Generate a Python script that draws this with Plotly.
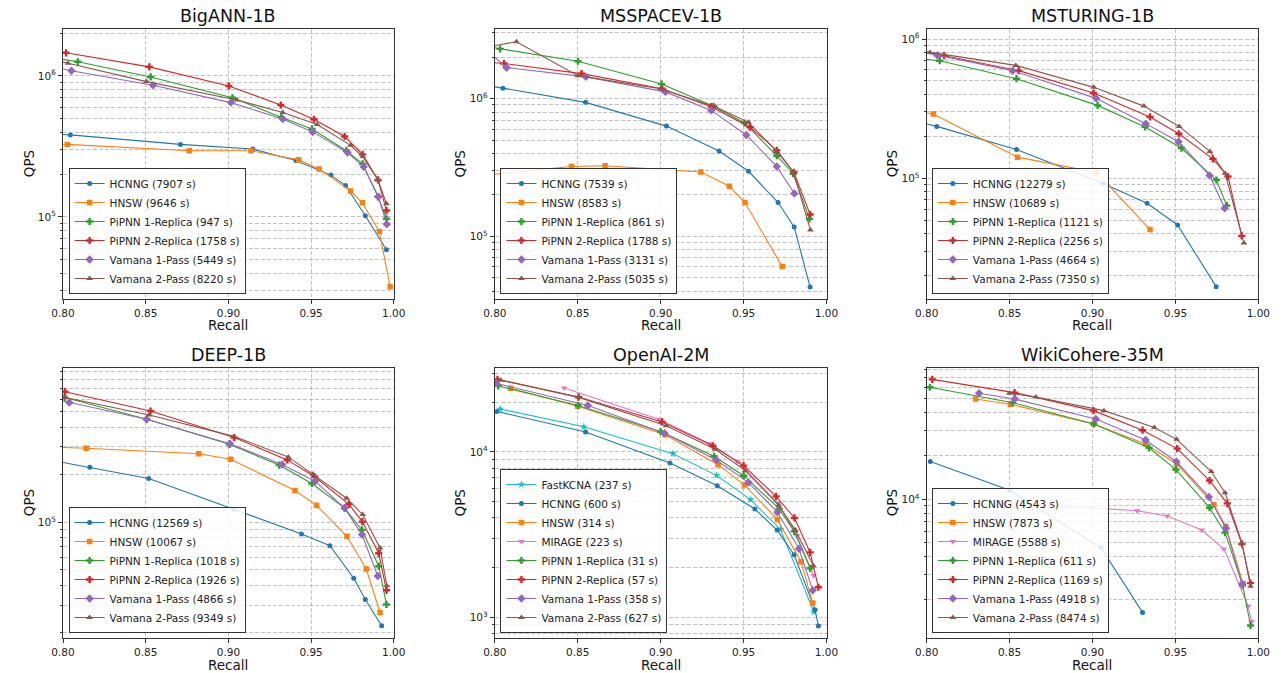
import plotly.graph_objects as go

FONT = "DejaVu Sans"
W, H = 1288, 673

# ---------------- data (recall, QPS) ----------------
PANEL_TITLES = ["BigANN-1B", "MSSPACEV-1B", "MSTURING-1B", "DEEP-1B", "OpenAI-2M", "WikiCohere-35M"]

# BigANN-1B
BIGANN_BUILD = {"HCNNG": 7907, "HNSW": 9646, "PiPNN 1-Replica": 947, "PiPNN 2-Replica": 1758,
                "Vamana 1-Pass": 5449, "Vamana 2-Pass": 8220}
BIGANN_RECALL = {
    "HCNNG": [0.79, 0.8044, 0.871, 0.9147, 0.9408, 0.962, 0.9709, 0.9828, 0.9956],
    "HNSW": [0.79, 0.8026, 0.8764, 0.9137, 0.9426, 0.9549, 0.9739, 0.981, 0.9913, 0.9978],
    "PiPNN 1-Replica": [0.79, 0.809, 0.853, 0.9025, 0.932, 0.9506, 0.9713, 0.9812, 0.9905, 0.9956],
    "PiPNN 2-Replica": [0.79, 0.8018, 0.8522, 0.9003, 0.9317, 0.9517, 0.9703, 0.9812, 0.9905, 0.9956],
    "Vamana 1-Pass": [0.79, 0.8051, 0.8544, 0.9015, 0.9329, 0.9509, 0.9721, 0.9818, 0.9907, 0.9958],
    "Vamana 2-Pass": [0.79, 0.803, 0.8505, 0.9052, 0.9329, 0.9537, 0.9739, 0.9812, 0.9905, 0.9956],
}
BIGANN_QPS = {
    "HCNNG": [3.9e5, 3.82e5, 3.27e5, 3.03e5, 2.51e5, 1.98e5, 1.67e5, 1.02e5, 5.86e4],
    "HNSW": [3.3e5, 3.27e5, 2.95e5, 2.95e5, 2.54e5, 2.19e5, 1.53e5, 1.26e5, 7.87e4, 3.2e4],
    "PiPNN 1-Replica": [1.37e6, 1.26e6, 9.84e5, 7.0e5, 5.09e5, 4.21e5, 2.95e5, 2.38e5, 1.39e5, 9.7e4],
    "PiPNN 2-Replica": [1.55e6, 1.46e6, 1.16e6, 8.49e5, 6.22e5, 4.93e5, 3.72e5, 2.78e5, 1.83e5, 1.11e5],
    "Vamana 1-Pass": [1.18e6, 1.09e6, 8.59e5, 6.47e5, 4.95e5, 4.01e5, 2.86e5, 2.27e5, 1.39e5, 8.87e4],
    "Vamana 2-Pass": [1.33e6, 1.23e6, 9.12e5, 6.76e5, 5.5e5, 4.52e5, 3.22e5, 2.68e5, 1.83e5, 1.24e5],
}

# MSSPACEV-1B
MSSPACEV_BUILD = {"HCNNG": 7539, "HNSW": 8583, "PiPNN 1-Replica": 861, "PiPNN 2-Replica": 1788,
                  "Vamana 1-Pass": 3131, "Vamana 2-Pass": 5035}
MSSPACEV_RECALL = {
    "HCNNG": [0.79, 0.8049, 0.8547, 0.9035, 0.9352, 0.953, 0.9708, 0.9805, 0.9901],
    "HNSW": [0.79, 0.8462, 0.8665, 0.9242, 0.9414, 0.9508, 0.9733],
    "PiPNN 1-Replica": [0.79, 0.8032, 0.8501, 0.9005, 0.9319, 0.9506, 0.97, 0.9799, 0.9897],
    "PiPNN 2-Replica": [0.79, 0.8055, 0.8523, 0.9009, 0.9305, 0.9538, 0.97, 0.9803, 0.9901],
    "Vamana 1-Pass": [0.79, 0.8071, 0.8549, 0.9029, 0.9305, 0.9516, 0.97, 0.9806],
    "Vamana 2-Pass": [0.79, 0.813, 0.8501, 0.8999, 0.9329, 0.953, 0.97, 0.9801, 0.9903],
}
MSSPACEV_QPS = {
    "HCNNG": [1.28e6, 1.19e6, 9.4e5, 6.32e5, 4.17e5, 2.97e5, 1.76e5, 1.17e5, 4.28e4],
    "HNSW": [2.75e5, 3.22e5, 3.26e5, 2.93e5, 2.31e5, 1.76e5, 6.03e4],
    "PiPNN 1-Replica": [2.47e6, 2.3e6, 1.87e6, 1.28e6, 8.8e5, 6.65e5, 3.85e5, 2.85e5, 1.34e5],
    "PiPNN 2-Replica": [1.86e6, 1.8e6, 1.52e6, 1.18e6, 8.75e5, 6.2e5, 4.22e5, 2.92e5, 1.44e5],
    "Vamana 1-Pass": [2.55e6, 1.68e6, 1.44e6, 1.12e6, 8.22e5, 5.45e5, 3.22e5, 2.05e5],
    "Vamana 2-Pass": [2.31e6, 2.59e6, 1.47e6, 1.18e6, 8.75e5, 6.73e5, 4.14e5, 2.92e5, 1.11e5],
}

# MSTURING-1B
MSTURING_BUILD = {"HCNNG": 12279, "HNSW": 10689, "PiPNN 1-Replica": 1121, "PiPNN 2-Replica": 2256,
                  "Vamana 1-Pass": 4664, "Vamana 2-Pass": 7350}
MSTURING_RECALL = {
    "HCNNG": [0.79, 0.8061, 0.8542, 0.9065, 0.9329, 0.9513, 0.9746],
    "HNSW": [0.79, 0.8041, 0.8548, 0.9026, 0.9347],
    "PiPNN 1-Replica": [0.79, 0.8079, 0.8542, 0.9031, 0.9317, 0.9536, 0.9747, 0.981],
    "PiPNN 2-Replica": [0.79, 0.8105, 0.8555, 0.9007, 0.9347, 0.9521, 0.9726, 0.9817, 0.99],
    "Vamana 1-Pass": [0.79, 0.8065, 0.8519, 0.9022, 0.9321, 0.9519, 0.9706, 0.9797],
    "Vamana 2-Pass": [0.79, 0.802, 0.8538, 0.9008, 0.931, 0.9523, 0.9708, 0.9799, 0.9913],
}
MSTURING_QPS = {
    "HCNNG": [2.63e5, 2.36e5, 1.61e5, 9.2e4, 6.62e4, 4.63e4, 1.67e4],
    "HNSW": [3.06e5, 2.9e5, 1.42e5, 1.1e5, 4.29e4],
    "PiPNN 1-Replica": [7.35e5, 6.99e5, 5.19e5, 3.34e5, 2.34e5, 1.65e5, 9.73e4, 6.37e4],
    "PiPNN 2-Replica": [8.5e5, 7.59e5, 5.93e5, 4.1e5, 2.76e5, 2.09e5, 1.38e5, 1.03e5, 3.86e4],
    "Vamana 1-Pass": [8.4e5, 7.64e5, 5.93e5, 3.75e5, 2.47e5, 1.83e5, 1.05e5, 6.1e4],
    "Vamana 2-Pass": [8.4e5, 8.02e5, 6.47e5, 4.5e5, 3.3e5, 2.36e5, 1.56e5, 1.09e5, 3.44e4],
}

# DEEP-1B
DEEP_BUILD = {"HCNNG": 12569, "HNSW": 10067, "PiPNN 1-Replica": 1018, "PiPNN 2-Replica": 1926,
              "Vamana 1-Pass": 4866, "Vamana 2-Pass": 9349}
DEEP_RECALL = {
    "HCNNG": [0.79, 0.8162, 0.8518, 0.9033, 0.9442, 0.9614, 0.9758, 0.9828, 0.9927],
    "HNSW": [0.79, 0.814, 0.8821, 0.9013, 0.9403, 0.9533, 0.9717, 0.9834, 0.9917],
    "PiPNN 1-Replica": [0.79, 0.801, 0.8507, 0.9006, 0.9307, 0.9505, 0.9703, 0.9808, 0.9909, 0.9956],
    "PiPNN 2-Replica": [0.79, 0.8012, 0.8529, 0.9035, 0.9356, 0.9522, 0.9729, 0.981, 0.9909, 0.9956],
    "Vamana 1-Pass": [0.79, 0.8038, 0.8505, 0.9009, 0.9325, 0.9524, 0.9703, 0.9808, 0.9903],
    "Vamana 2-Pass": [0.79, 0.8014, 0.8521, 0.9033, 0.9362, 0.9511, 0.9715, 0.9812, 0.9917, 0.9958],
}
DEEP_QPS = {
    "HCNNG": [2.5e5, 2.23e5, 1.89e5, 1.21e5, 8.44e4, 7.12e4, 4.43e4, 3.25e4, 2.22e4],
    "HNSW": [2.99e5, 2.94e5, 2.71e5, 2.5e5, 1.59e5, 1.28e5, 8.16e4, 5.07e4, 2.69e4],
    "PiPNN 1-Replica": [6.62e5, 6.15e5, 4.48e5, 3.11e5, 2.3e5, 1.76e5, 1.23e5, 8.95e4, 5.28e4, 3.03e4],
    "PiPNN 2-Replica": [7.13e5, 6.69e5, 5.05e5, 3.43e5, 2.48e5, 1.94e5, 1.3e5, 1.01e5, 6.37e4, 3.72e4],
    "Vamana 1-Pass": [6.15e5, 5.72e5, 4.48e5, 3.14e5, 2.32e5, 1.82e5, 1.23e5, 8.36e4, 4.58e4],
    "Vamana 2-Pass": [6.53e5, 6.15e5, 4.77e5, 3.49e5, 2.59e5, 2.02e5, 1.42e5, 1.12e5, 6.89e4, 3.98e4],
}

# OpenAI-2M
OPENAI_BUILD = {"FastKCNA": 237, "HCNNG": 600, "HNSW": 314, "MIRAGE": 223, "PiPNN 1-Replica": 31,
                "PiPNN 2-Replica": 57, "Vamana 1-Pass": 358, "Vamana 2-Pass": 627}
OPENAI_RECALL = {
    "FastKCNA": [0.8032, 0.8537, 0.9074, 0.9337, 0.9542, 0.9722, 0.9923],
    "HCNNG": [0.8012, 0.8547, 0.9056, 0.9341, 0.9568, 0.9702, 0.9805, 0.9931, 0.9951],
    "HNSW": [0.8095, 0.85, 0.9027, 0.9346, 0.9506, 0.9704, 0.9846, 0.9917],
    "MIRAGE": [0.8418, 0.8993, 0.9295, 0.9463, 0.9708, 0.9822, 0.9923],
    "PiPNN 1-Replica": [0.802, 0.8501, 0.8999, 0.9322, 0.95, 0.9714, 0.9805, 0.9901],
    "PiPNN 2-Replica": [0.8016, 0.8505, 0.9009, 0.9315, 0.95, 0.9696, 0.9807, 0.9901, 0.9951],
    "Vamana 1-Pass": [0.8008, 0.8561, 0.9023, 0.9335, 0.953, 0.9704, 0.9834, 0.9917],
    "Vamana 2-Pass": [0.8036, 0.8505, 0.9033, 0.9329, 0.951, 0.9712, 0.9812, 0.9921],
}
OPENAI_QPS = {
    "FastKCNA": [1.82e4, 1.42e4, 9.77e3, 7.22e3, 5.15e3, 3.41e3, 1.08e3],
    "HCNNG": [1.76e4, 1.32e4, 8.58e3, 6.25e3, 4.52e3, 3.37e3, 2.39e3, 1.11e3, 887],
    "HNSW": [2.43e4, 1.89e4, 1.27e4, 8.38e3, 6.31e3, 3.9e3, 2.17e3, 1.22e3],
    "MIRAGE": [2.44e4, 1.57e4, 1.12e4, 8.74e3, 4.9e3, 3.12e3, 1.79e3],
    "PiPNN 1-Replica": [2.51e4, 1.91e4, 1.33e4, 9.42e3, 7.19e3, 4.54e3, 3.31e3, 1.98e3],
    "PiPNN 2-Replica": [2.75e4, 2.15e4, 1.52e4, 1.09e4, 8.27e3, 5.39e3, 3.99e3, 2.47e3, 1.52e3],
    "Vamana 1-Pass": [2.6e4, 1.91e4, 1.3e4, 8.95e3, 6.53e3, 4.32e3, 2.6e3, 1.46e3],
    "Vamana 2-Pass": [2.72e4, 2.14e4, 1.44e4, 1.04e4, 7.71e3, 4.76e3, 3.37e3, 2.05e3],
}

# WikiCohere-35M
WIKI_BUILD = {"HCNNG": 4543, "HNSW": 7873, "MIRAGE": 5588, "PiPNN 1-Replica": 611,
              "PiPNN 2-Replica": 1169, "Vamana 1-Pass": 4918, "Vamana 2-Pass": 8474}
WIKI_RECALL = {
    "HCNNG": [0.8022, 0.8501, 0.9051, 0.9302],
    "HNSW": [0.8296, 0.8505, 0.9006, 0.932, 0.9509, 0.9732, 0.9803, 0.9909],
    "MIRAGE": [0.8471, 0.8996, 0.927, 0.945, 0.9659, 0.9793, 0.9939, 0.9959],
    "PiPNN 1-Replica": [0.802, 0.8519, 0.9008, 0.9341, 0.9503, 0.9706, 0.9799, 0.9905, 0.9953],
    "PiPNN 2-Replica": [0.8034, 0.853, 0.9006, 0.9302, 0.9511, 0.9706, 0.9813, 0.9901, 0.9953],
    "Vamana 1-Pass": [0.8316, 0.8531, 0.902, 0.932, 0.9505, 0.9702, 0.9805, 0.9903],
    "Vamana 2-Pass": [0.8499, 0.8659, 0.9069, 0.9373, 0.9507, 0.9716, 0.9799, 0.9901, 0.9953],
}
WIKI_QPS = {
    "HCNNG": [1.83e4, 1.155e4, 4.62e3, 1.64e3],
    "HNSW": [4.97e4, 4.57e4, 3.34e4, 2.42e4, 1.76e4, 9.18e3, 6.5e3, 2.58e3],
    "MIRAGE": [9.48e3, 8.75e3, 8.34e3, 7.66e3, 6.12e3, 4.52e3, 1.81e3, 1.42e3],
    "PiPNN 1-Replica": [6.0e4, 4.69e4, 3.34e4, 2.28e4, 1.61e4, 8.75e3, 5.87e3, 2.54e3, 1.33e3],
    "PiPNN 2-Replica": [6.81e4, 5.51e4, 4.13e4, 3.02e4, 2.25e4, 1.35e4, 9.38e3, 4.9e3, 2.62e3],
    "Vamana 1-Pass": [5.45e4, 4.97e4, 3.61e4, 2.58e4, 1.83e4, 1.04e4, 6.3e3, 2.58e3],
    "Vamana 2-Pass": [5.45e4, 5.14e4, 4.13e4, 3.15e4, 2.61e4, 1.56e4, 1.11e4, 4.98e3, 2.49e3],
}

X_TICKS = [0.80, 0.85, 0.90, 0.95, 1.00]
X_TICK_TEXT = ["0.80", "0.85", "0.90", "0.95", "1.00"]
Y_MAJOR = [[1e5, 1e6], [1e5, 1e6], [1e5, 1e6], [1e5], [1e3, 1e4], [1e4]]
Y_RANGES = [(4.418, 6.333), (4.545, 6.506), (4.134, 6.072), (4.269, 5.975), (2.875, 4.508), (3.037, 4.912)]

PANELS = [
    (BIGANN_RECALL, BIGANN_QPS, BIGANN_BUILD),
    (MSSPACEV_RECALL, MSSPACEV_QPS, MSSPACEV_BUILD),
    (MSTURING_RECALL, MSTURING_QPS, MSTURING_BUILD),
    (DEEP_RECALL, DEEP_QPS, DEEP_BUILD),
    (OPENAI_RECALL, OPENAI_QPS, OPENAI_BUILD),
    (WIKI_RECALL, WIKI_QPS, WIKI_BUILD),
]

# ---------------- styles ----------------
COLORS = {"FastKCNA": "#17becf", "HCNNG": "#1f77b4", "HNSW": "#ff7f0e", "MIRAGE": "#e377c2",
          "PiPNN 1-Replica": "#2ca02c", "PiPNN 2-Replica": "#d62728",
          "Vamana 1-Pass": "#9467bd", "Vamana 2-Pass": "#8c564b"}
SYMBOLS = {"FastKCNA": "star", "HCNNG": "circle", "HNSW": "square", "MIRAGE": "triangle-down",
           "PiPNN 1-Replica": "cross", "PiPNN 2-Replica": "cross",
           "Vamana 1-Pass": "diamond", "Vamana 2-Pass": "triangle-up"}
SIZES = {"FastKCNA": 6, "HCNNG": 5, "HNSW": 5.5, "MIRAGE": 6, "PiPNN 1-Replica": 6,
         "PiPNN 2-Replica": 6, "Vamana 1-Pass": 6.5, "Vamana 2-Pass": 6}

COL_X = [(52, 389), (492, 830), (932, 1270)]
ROW_Y = [(29, 299), (368, 638)]
QPS_LABEL_X = [17.5, 457, 897]
LEGEND_LEFT = [57.7, 497.7, 937.3]
LEGEND_BOTTOM = [294, 633]
TITLE_Y = [16, 355]
XLABEL_Y = [325, 665]

GRID = "rgba(176,176,176,0.75)"
AXIS = "#333333"

fig = go.Figure()
layout = dict(
    width=W, height=H, margin=dict(l=0, r=0, t=0, b=0),
    paper_bgcolor="white", plot_bgcolor="white",
    font=dict(family=FONT, size=10, color="#222"),
    annotations=[],
)

for i, (rec, qps, build) in enumerate(PANELS):
    row, col = divmod(i, 3)
    sfx = "" if i == 0 else str(i + 1)
    xa, ya = "x" + sfx, "y" + sfx
    leg = "legend" + sfx
    x0, x1 = COL_X[col]
    y0, y1 = ROW_Y[row]
    for name in rec:
        fig.add_trace(go.Scatter(
            x=rec[name], y=qps[name], mode="lines+markers",
            name=f"{name} ({build[name]} s)",
            line=dict(color=COLORS[name], width=1.1),
            marker=dict(symbol=SYMBOLS[name], size=SIZES[name], color=COLORS[name],
                        line=dict(width=0)),
            xaxis=xa, yaxis=ya, legend=leg,
        ))
    lo, hi = Y_RANGES[i]
    minors = [m * 10 ** e for e in range(2, 8) for m in range(2, 10)
              if lo <= __import__("math").log10(m * 10 ** e) <= hi]
    layout["xaxis" + sfx] = dict(
        domain=[x0 / W, x1 / W], anchor=ya, range=[0.8, 1.0],
        tickmode="array", tickvals=X_TICKS, ticktext=X_TICK_TEXT,
        showgrid=True, gridcolor=GRID, griddash="4px,2px", gridwidth=0.8,
        showline=True, mirror=True, linecolor=AXIS, linewidth=1,
        ticks="outside", ticklen=4, tickcolor=AXIS, zeroline=False,
        tickfont=dict(size=10.5, family=FONT, color="#222"),
    )
    layout["yaxis" + sfx] = dict(
        domain=[1 - y1 / H, 1 - y0 / H], anchor=xa, type="log", range=[lo, hi],
        tickmode="array", tickvals=Y_MAJOR[i],
        ticktext=["10<sup>%d</sup>" % round(__import__("math").log10(v)) for v in Y_MAJOR[i]],
        showgrid=True, gridcolor=GRID, griddash="4px,2px", gridwidth=0.8,
        showline=True, mirror=True, linecolor=AXIS, linewidth=1,
        ticks="outside", ticklen=4, tickcolor=AXIS, zeroline=False,
        tickfont=dict(size=10.5, family=FONT, color="#222"),
        minor=dict(tickmode="array", tickvals=minors, ticks="outside", ticklen=2,
                   tickcolor=AXIS, showgrid=True, gridcolor=GRID, griddash="4px,2px",
                   gridwidth=0.6),
    )
    layout[leg] = dict(
        x=LEGEND_LEFT[col] / W, y=1 - LEGEND_BOTTOM[row] / H, xanchor="left", yanchor="bottom",
        bgcolor="rgba(255,255,255,0.85)", bordercolor="#333", borderwidth=1,
        font=dict(size=10.5, family=FONT, color="#222"), tracegroupgap=0,
        itemwidth=30,
    )
    cx = (x0 + x1) / 2
    layout["annotations"] += [
        dict(text=PANEL_TITLES[i], x=cx / W, y=1 - TITLE_Y[row] / H, xref="paper", yref="paper",
             showarrow=False, xanchor="center", yanchor="middle",
             font=dict(size=17.5, family=FONT, color="#111")),
        dict(text="Recall", x=cx / W, y=1 - XLABEL_Y[row] / H, xref="paper", yref="paper",
             showarrow=False, xanchor="center", yanchor="middle",
             font=dict(size=13.5, family=FONT, color="#111")),
        dict(text="QPS", x=QPS_LABEL_X[col] / W, y=1 - (y0 + y1) / 2 / H, xref="paper", yref="paper",
             showarrow=False, xanchor="center", yanchor="middle", textangle=-90,
             font=dict(size=13.5, family=FONT, color="#111")),
    ]

fig.update_layout(**layout)
fig.write_html("out.html", config={"displayModeBar": False})
